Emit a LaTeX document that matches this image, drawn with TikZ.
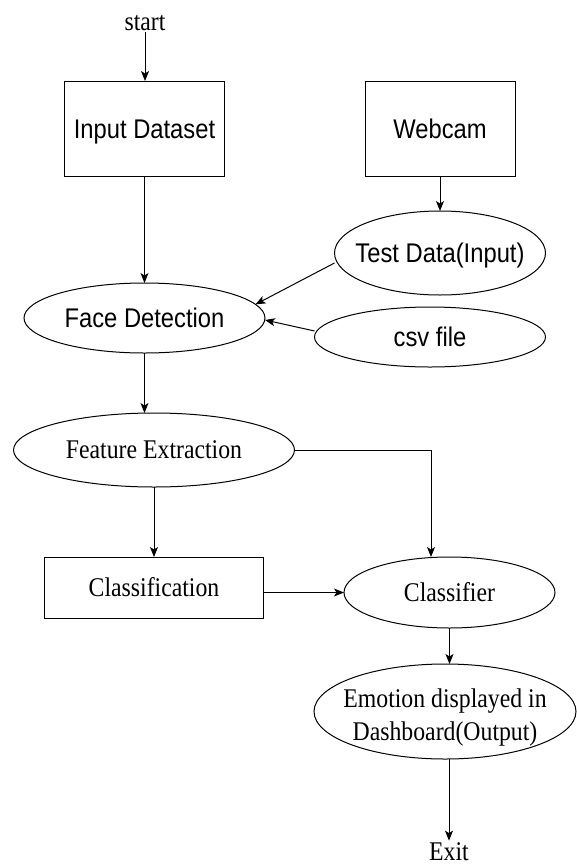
\documentclass[tikz,border=0pt]{standalone}
\usepackage{fontspec}
\usepackage{graphicx}
\setmainfont{Liberation Serif}
\newfontfamily\sansf{Liberation Sans}
\usetikzlibrary{shapes.geometric,arrows.meta}
\newcommand{\serifT}{\rmfamily\fontsize{27}{33}\selectfont}
\newcommand{\sansT}{\sansf\fontsize{27}{33}\selectfont}
\newcommand{\nar}[1]{\scalebox{0.88}[1]{#1}}
\newcommand{\ctext}[2]{\makebox[0pt]{\raisebox{#1}[0pt][0pt]{#2}}}
\tikzset{
  every node/.style={inner sep=0pt, outer sep=0pt},
  boxn/.style={draw, line width=1pt, rectangle},
  elln/.style={draw, line width=1pt, ellipse},
  arr/.style={line width=1pt, -{Stealth[length=10pt,width=8pt,inset=2.5pt]}},
  ln/.style={line width=1pt},
}
\begin{document}
\begin{tikzpicture}[x=1pt,y=-1pt]
\useasboundingbox (0,0) rectangle (576,865);
% nodes
\node[anchor=base, font=\serifT, inner sep=1.5pt] (start) at (145,30.5) {\nar{start}};
\node[boxn, minimum width=160pt, minimum height=95pt, font=\sansT] (inp) at (144.5,128.5) {\ctext{-9.65pt}{\nar{Input Dataset}}};
\node[boxn, minimum width=150pt, minimum height=95pt, font=\sansT] (web) at (440,128.5) {\ctext{-9.65pt}{\nar{Webcam}}};
\node[elln, minimum width=211pt, minimum height=84pt, font=\sansT] (test) at (440,253) {\ctext{-9.65pt}{\nar{Test Data(Input)}}};
\node[elln, minimum width=241pt, minimum height=70pt, font=\sansT] (face) at (144.5,318) {\ctext{-9.65pt}{\nar{Face Detection}}};
\node[elln, minimum width=231pt, minimum height=60pt, font=\sansT] (csv) at (430,337) {\ctext{-9.65pt}{\nar{csv file}}};
\node[elln, minimum width=281pt, minimum height=74pt, font=\serifT] (feat) at (154,450) {\ctext{-8.95pt}{\nar{Feature Extraction}}};
\node[boxn, minimum width=219pt, minimum height=61pt, font=\serifT] (cls) at (154,587.5) {\ctext{-8.95pt}{\nar{Classification}}};
\node[elln, minimum width=211pt, minimum height=71pt, font=\serifT] (clf) at (449.5,592.5) {\ctext{-8.95pt}{\nar{Classifier}}};
\node[elln, minimum width=262pt, minimum height=95pt, font=\serifT] (emo) at (445,711.5) {\ctext{-28.5pt}{\begin{tabular}[b]{@{}c@{}}\nar{Emotion displayed in}\\\nar{Dashboard(Output)}\end{tabular}}};
\node[anchor=base, font=\serifT, inner sep=1.5pt] (exit) at (449,860) {\nar{Exit}};
% connectors
\draw[arr] (start.south) -- (start.south |- inp.north);
\draw[arr] (inp.south) -- (face.north);
\draw[arr] (web.south) -- (test.north);
\draw[arr] ([yshift=-10pt]test.west) -- (face.7);
\draw[arr] ([yshift=6pt]csv.west) -- ([yshift=-2pt]face.east);
\draw[arr] (face.south) -- (face.south |- feat.north);
\draw[arr] (feat.east) -| ([xshift=-18.5pt]clf.north);
\draw[arr] (feat.south) -- (cls.north);
\draw[arr] (cls.east |- clf.west) -- (clf.west);
\draw[arr] (clf.south) -- (clf.south |- emo.north);
\draw[arr] (exit.north |- emo.south) -- (exit.north);
\end{tikzpicture}
\end{document}
